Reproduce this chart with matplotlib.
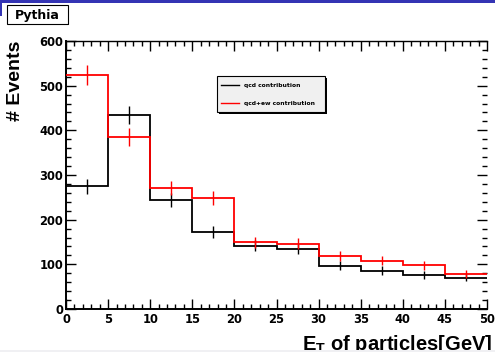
import numpy as np
import matplotlib
matplotlib.use("Agg")
import matplotlib.pyplot as plt
from matplotlib.patches import Rectangle
from matplotlib.lines import Line2D
from matplotlib.ticker import MultipleLocator

# ---- data ----
bin_edges = [0, 5, 10, 15, 20, 25, 30, 35, 40, 45, 50]
qcd_counts = [275, 434, 245, 172, 142, 134, 97, 86, 77, 70]
qcd_errors = [16.6, 20.8, 15.7, 13.1, 11.9, 11.6, 9.8, 9.3, 8.8, 8.4]
qcdew_counts = [524, 385, 271, 249, 149, 146, 119, 108, 98, 78]
qcdew_errors = [22.9, 19.6, 16.5, 15.8, 12.2, 12.1, 10.9, 10.4, 9.9, 8.8]
legend_labels = ["qcd contribution", "qcd+ew contribution"]
series_colors = ["black", "#ff0000"]
x_ticks = [0, 5, 10, 15, 20, 25, 30, 35, 40, 45, 50]
y_ticks = [0, 100, 200, 300, 400, 500, 600]

W, H = 495, 352
fig = plt.figure(figsize=(W / 100, H / 100), dpi=100)

def fx(x):
    return x / W

def fy(y):
    return 1 - y / H

ax = fig.add_axes([fx(66), fy(309), fx(487) - fx(66), fy(41) - fy(309)])
ax.set_xlim(0, 50)
ax.set_ylim(0, 600)

centers = [(bin_edges[i] + bin_edges[i + 1]) / 2 for i in range(len(bin_edges) - 1)]

ax.stairs(qcd_counts, bin_edges, baseline=None, color=series_colors[0], lw=1.3, zorder=3)
ax.errorbar(centers, qcd_counts, yerr=qcd_errors, fmt='none', ecolor=series_colors[0],
            elinewidth=1.0, capsize=0, zorder=3)
ax.stairs(qcdew_counts, bin_edges, baseline=None, color=series_colors[1], lw=1.3, zorder=4)
ax.errorbar(centers, qcdew_counts, yerr=qcdew_errors, fmt='none', ecolor=series_colors[1],
            elinewidth=1.0, capsize=0, zorder=4)

ax.set_xticks(x_ticks)
ax.set_yticks(y_ticks)
ax.xaxis.set_minor_locator(MultipleLocator(1))
ax.yaxis.set_minor_locator(MultipleLocator(20))
ax.tick_params(which='both', direction='in', top=True, right=True, width=1.0, color='black')
ax.tick_params(which='major', length=7)
ax.tick_params(which='minor', length=3.5)
ax.tick_params(axis='x', which='major', pad=3)
ax.tick_params(axis='y', which='major', pad=2)
for lab in ax.get_xticklabels() + ax.get_yticklabels():
    lab.set_fontfamily('DejaVu Sans')
    lab.set_fontweight('bold')
    lab.set_fontsize(8.3)

for s in ['left', 'bottom']:
    ax.spines[s].set_linewidth(1.4)
ax.spines['top'].set_linewidth(1.0)
ax.spines['right'].set_visible(False)

# y label
fig.text(fx(15), fy(81), "# Events", rotation=90, ha='center', va='center',
         fontfamily='Liberation Sans', fontweight='bold', fontsize=14)

# x label
plt.rcParams['mathtext.fontset'] = 'custom'
plt.rcParams['mathtext.bf'] = 'Liberation Sans:bold'
plt.rcParams['mathtext.rm'] = 'Liberation Sans:bold'
fig.text(fx(492), fy(350.5), r"E$_{\mathbf{T}}$ of particles[GeV]", ha='right', va='baseline',
         fontfamily='Liberation Sans', fontweight='bold', fontsize=14.5)

# legend (drawn manually)
lx0, ly0, lx1, ly1 = 217, 76, 325, 112
fig.patches.append(Rectangle((fx(lx0 + 1.5), fy(ly1 + 1.5)), fx(lx1) - fx(lx0), fy(ly0) - fy(ly1),
                             transform=fig.transFigure, facecolor='black', edgecolor='none', zorder=5))
fig.patches.append(Rectangle((fx(lx0), fy(ly1)), fx(lx1) - fx(lx0), fy(ly0) - fy(ly1),
                             transform=fig.transFigure, facecolor='#f0f0f0', edgecolor='black',
                             lw=0.8, zorder=6))
for i, (lab, col) in enumerate(zip(legend_labels, series_colors)):
    yy = 85 + i * 18
    fig.lines.append(Line2D([fx(221), fx(239)], [fy(yy), fy(yy)], transform=fig.transFigure,
                            color=col, lw=1.0, zorder=7))
    fig.text(fx(244), fy(yy), lab, ha='left', va='center', fontfamily='DejaVu Sans',
             fontweight='bold', fontsize=4.3, zorder=7)

# Pythia label box
px0, py0, px1, py1 = 7, 5, 68, 24
fig.patches.append(Rectangle((fx(px0 + 1.2), fy(py1 + 1.2)), fx(px1) - fx(px0), fy(py0) - fy(py1),
                             transform=fig.transFigure, facecolor='black', edgecolor='none', zorder=5))
fig.patches.append(Rectangle((fx(px0), fy(py1)), fx(px1) - fx(px0), fy(py0) - fy(py1),
                             transform=fig.transFigure, facecolor='white', edgecolor='black',
                             lw=0.8, zorder=6))
fig.text(fx((px0 + px1) / 2), fy((py0 + py1) / 2 + 0.5), "Pythia", ha='center', va='center',
         fontfamily='DejaVu Sans', fontweight='bold', fontsize=9, zorder=7)

# top blue strip (cropped title) and bottom grey strip
fig.patches.append(Rectangle((0, fy(3)), 1, fy(0) - fy(3), transform=fig.transFigure,
                             facecolor='#3434b4', edgecolor='none', zorder=8))
fig.patches.append(Rectangle((0, fy(16)), fx(2), fy(0) - fy(16), transform=fig.transFigure,
                             facecolor='#3434b4', edgecolor='none', zorder=8))
fig.patches.append(Rectangle((0, 0), 1, fy(350), transform=fig.transFigure,
                             facecolor='#f0f0f3', edgecolor='none', zorder=8))

fig.savefig("out.png", dpi=100)
